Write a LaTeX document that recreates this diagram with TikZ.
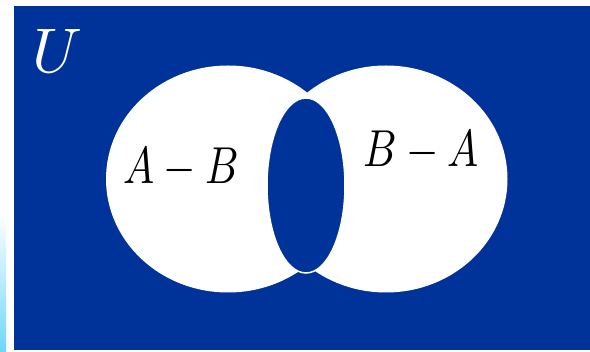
\documentclass[tikz,border=0pt]{standalone}
\usetikzlibrary{shapes.geometric}
\definecolor{ublue}{RGB}{0,51,153}
\definecolor{stripcyan}{RGB}{110,215,250}
\begin{document}
\begin{tikzpicture}[x=1pt,y=-1pt,
  setshape/.style={ellipse,fill=white,inner sep=0pt},
  lens/.style={ellipse,fill=ublue,draw=white,line width=1.5pt,inner sep=0pt},
  setlabel/.style={inner sep=0pt},
  ulabel/.style={text=white,inner sep=0pt}]
\useasboundingbox (0,0) rectangle (590,352);
\fill[white] (0,0) rectangle (590,352);
\shade[top color=white,bottom color=stripcyan] (0,212) rectangle (6,352);
\fill[ublue] (14,6) rectangle (590,350);
\node[setshape,minimum width=244pt,minimum height=227pt] (A) at (228,179) {};
\node[setshape,minimum width=243pt,minimum height=227pt] (B) at (386,179) {};
\node[lens,minimum width=78pt,minimum height=175pt] (AB) at (306,185.5) {};
\node[setlabel,anchor=base] (amb) at (181,184) {\scalebox{4.15}[5.2]{$A-B$}};
\node[setlabel,anchor=base] (bma) at (421,167) {\scalebox{4.15}[5.2]{$B-A$}};
\node[ulabel,anchor=base] (U) at (57,73) {\scalebox{6.3}{$U$}};
\end{tikzpicture}
\end{document}
